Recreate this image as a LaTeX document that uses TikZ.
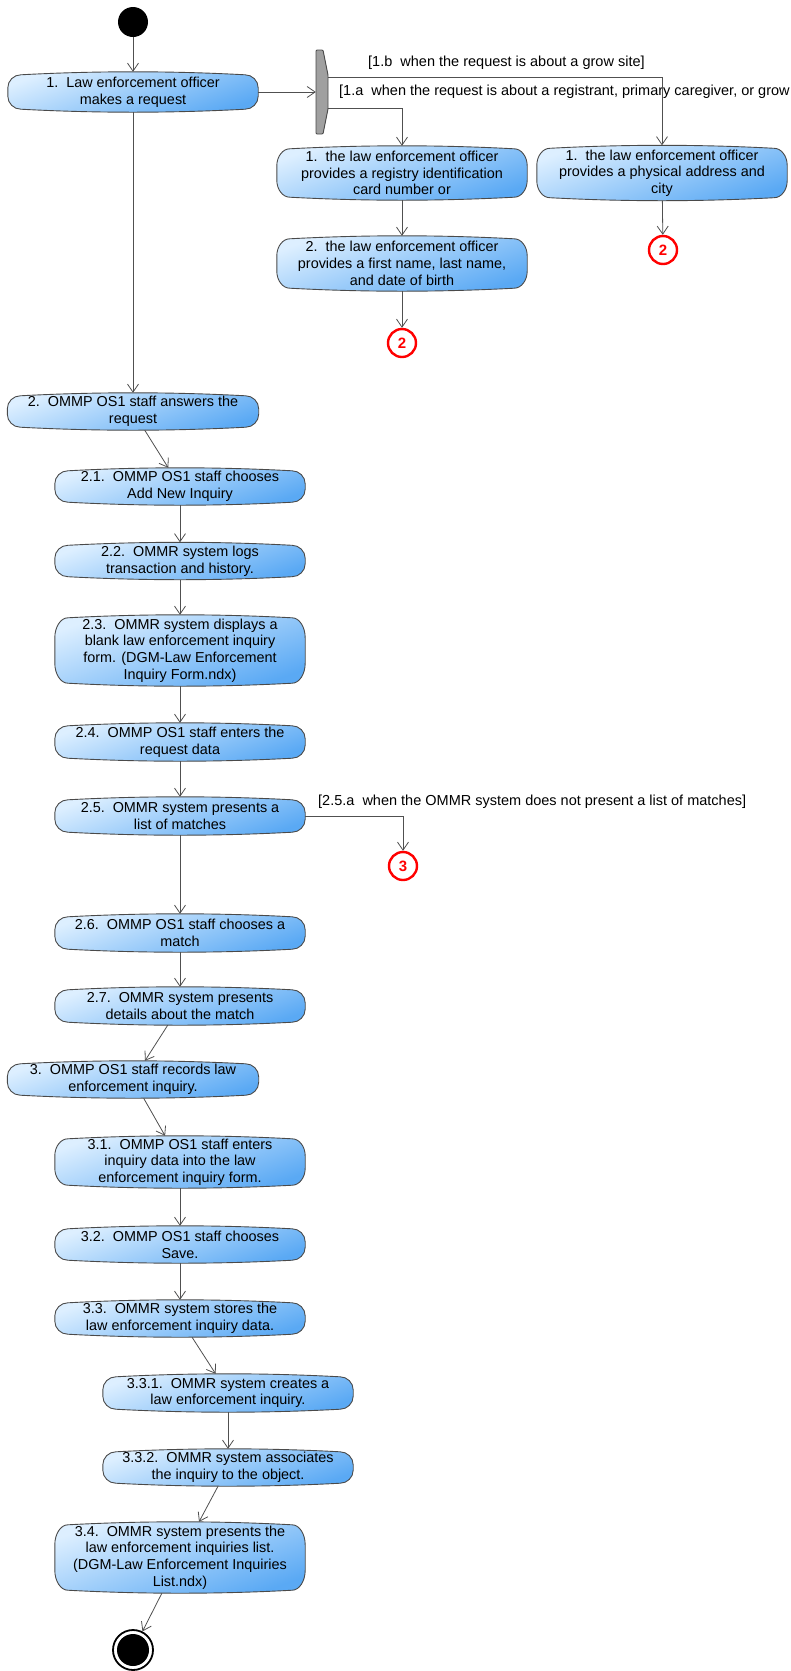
\documentclass[tikz,border=0pt]{standalone}
\usepackage{fontspec}
\setmainfont{Liberation Sans}
\usetikzlibrary{arrows.meta,calc,backgrounds}
\definecolor{nodetop}{HTML}{DDEFFF}
\definecolor{nodebot}{HTML}{5AA9F4}
\definecolor{edgeC}{HTML}{4A4A4A}
\definecolor{lineC}{HTML}{505050}
\definecolor{forkC}{HTML}{A0A0A0}
\newcommand{\actbg}[2]{%
  \pgfmathsetmacro{\ra}{3+#2}%
  \pgfmathsetmacro{\rb}{3+0.45*#2}%
  \path[actbg]
    ([xshift=13pt,yshift=-3pt]#1.north west)
    .. controls ($(#1.north west)!0.35!(#1.north east)+(0pt,1pt)$) and ($(#1.north west)!0.65!(#1.north east)+(0pt,1pt)$) .. ([xshift=-13pt,yshift=-3pt]#1.north east)
    .. controls ([xshift=-6pt,yshift=-3pt]#1.north east) and ([yshift=-\rb pt]#1.north east) .. ([yshift=-\ra pt]#1.north east)
    -- ([yshift=\ra pt]#1.south east)
    .. controls ([yshift=\rb pt]#1.south east) and ([xshift=-6pt,yshift=3pt]#1.south east) .. ([xshift=-13pt,yshift=3pt]#1.south east)
    .. controls ($(#1.south west)!0.65!(#1.south east)+(0pt,-1pt)$) and ($(#1.south west)!0.35!(#1.south east)+(0pt,-1pt)$) .. ([xshift=13pt,yshift=3pt]#1.south west)
    .. controls ([xshift=6pt,yshift=3pt]#1.south west) and ([yshift=\rb pt]#1.south west) .. ([yshift=\ra pt]#1.south west)
    -- ([yshift=-\ra pt]#1.north west)
    .. controls ([yshift=-\rb pt]#1.north west) and ([xshift=6pt,yshift=-3pt]#1.north west) .. ([xshift=13pt,yshift=-3pt]#1.north west)
    -- cycle;}
\begin{document}
\begin{tikzpicture}[x=1pt,y=-1pt,
  act/.style={minimum width=250pt, align=center, inner sep=0pt,
    font=\fontsize{14.4}{16.7}\selectfont},
  actbg/.style={draw=edgeC, line width=0.9pt,
    top color=nodetop, bottom color=nodebot, shading angle=20},
  arr/.style={draw=lineC, line width=0.8pt, -{Straight Barb[length=8pt,width=11pt]}},
  conn/.style={draw=red, fill=white, circle, line width=2.4pt, minimum size=28pt,
    inner sep=0pt, text=red, font=\bfseries\fontsize{15}{15}\selectfont},
  guard/.style={anchor=west, inner sep=0pt, font=\fontsize{14.5}{16.7}\selectfont}
]
\useasboundingbox (0,0) rectangle (791,1671);

% initial and final
\node[circle, fill=black, minimum size=30pt, inner sep=0pt] (start) at (133,22) {};
\node[circle, draw=black, line width=1.8pt, fill=white, minimum size=40pt, inner sep=0pt,
  path picture={\fill[black] (path picture bounding box.center) circle (16pt);}] (end) at (133,1650) {};

% fork
\node[minimum width=12pt, minimum height=84pt, inner sep=0pt] (fork) at (322,92) {};
\filldraw[fill=forkC, draw=edgeC, line width=0.9pt, rounded corners=1pt]
  (316,50) -- (323,50) -- (328,75) -- (328,109) -- (323,134) -- (316,134) -- cycle;

% actions
\node[act, minimum height=40pt] (n1) at (133,92) {1.\ \ Law enforcement officer\\makes a request};
\node[act, minimum height=54pt] (n1a1) at (402,173) {1.\ \ the law enforcement officer\\provides a registry identification\\card number or};
\node[act, minimum height=55pt] (n1b1) at (662,173) {1.\ \ the law enforcement officer\\provides a physical address and\\city};
\node[act, minimum height=55pt] (n1a2) at (402,263.5) {2.\ \ the law enforcement officer\\provides a first name, last name,\\and date of birth};
\node[act, minimum height=37pt, minimum width=251pt] (n2) at (133,411.5) {2.\ \ OMMP OS1 staff answers the\\request};
\node[act, minimum height=37pt] (n21) at (180,486.5) {2.1.\ \ OMMP OS1 staff chooses\\Add New Inquiry};
\node[act, minimum height=37pt] (n22) at (180,561) {2.2.\ \ OMMR system logs\\transaction and history.};
\node[act, minimum height=71pt] (n23) at (180,650.5) {2.3.\ \ OMMR system displays a\\blank law enforcement inquiry\\form. (DGM-Law Enforcement\\Inquiry Form.ndx)};
\node[act, minimum height=38pt] (n24) at (180,742) {2.4.\ \ OMMP OS1 staff enters the\\request data};
\node[act, minimum height=38pt] (n25) at (180,816) {2.5.\ \ OMMR system presents a\\list of matches};
\node[act, minimum height=38pt] (n26) at (180,933) {2.6.\ \ OMMP OS1 staff chooses a\\match};
\node[act, minimum height=38pt] (n27) at (180,1006) {2.7.\ \ OMMR system presents\\details about the match};
\node[act, minimum height=37pt, minimum width=251pt] (n3) at (133,1079.5) {3.\ \ OMMP OS1 staff records law\\enforcement inquiry.};
\node[act, minimum height=52pt] (n31) at (180,1162) {3.1.\ \ OMMP OS1 staff enters\\inquiry data into the law\\enforcement inquiry form.};
\node[act, minimum height=37pt] (n32) at (180,1244.5) {3.2.\ \ OMMP OS1 staff chooses\\Save.};
\node[act, minimum height=37pt] (n33) at (180,1318.5) {3.3.\ \ OMMR system stores the\\law enforcement inquiry data.};
\node[act, minimum height=38pt] (n331) at (228,1393) {3.3.1.\ \ OMMR system creates a\\law enforcement inquiry.};
\node[act, minimum height=37pt] (n332) at (228,1467.5) {3.3.2.\ \ OMMR system associates\\the inquiry to the object.};
\node[act, minimum height=71pt] (n34) at (180,1557.5) {3.4.\ \ OMMR system presents the\\law enforcement inquiries list.\\(DGM-Law Enforcement Inquiries\\List.ndx)};

\begin{scope}[on background layer]
  \foreach \n/\r in {n1/13, n1a1/17, n1b1/17, n1a2/17, n2/13, n21/13, n22/13, n23/20,
    n24/13, n25/13, n26/13, n27/13, n3/13, n31/17, n32/13, n33/13, n331/13, n332/13, n34/20}
    {\actbg{\n}{\r}}
\end{scope}

% connectors (off-page)
\node[conn] (c2a) at (402,343) {2};
\node[conn] (c2b) at (663,250) {2};
\node[conn] (c3) at (403,866) {3};

% guards
\node[guard] (g1b) at (368,63) {[1.b\ \ when the request is about a grow site]};
\node[guard] (g1a) at (339,92) {[1.a\ \ when the request is about a registrant, primary caregiver, or grow};
\node[guard] (g25) at (318,802) {[2.5.a\ \ when the OMMR system does not present a list of matches]};

% edges
\draw[arr] (start) -- (n1);
\draw[arr] (n1) -- (fork);
\draw[arr] ([yshift=15pt]fork.east) -| (n1b1.north);
\draw[arr] ([yshift=-16pt]fork.east) -| (n1a1.north);
\draw[arr] (n1a1) -- (n1a2);
\draw[arr] (n1a2) -- (c2a);
\draw[arr] (n1b1) -- (c2b);
\draw[arr] (n1) -- (n2);
\draw[arr] (n2) -- (n21);
\draw[arr] (n21) -- (n22);
\draw[arr] (n22) -- (n23);
\draw[arr] (n23) -- (n24);
\draw[arr] (n24) -- (n25);
\draw[arr] (n25) -| (c3);
\draw[arr] (n25) -- (n26);
\draw[arr] (n26) -- (n27);
\draw[arr] (n27) -- (n3);
\draw[arr] (n3) -- (n31);
\draw[arr] (n31) -- (n32);
\draw[arr] (n32) -- (n33);
\draw[arr] (n33) -- (n331);
\draw[arr] (n331) -- (n332);
\draw[arr] (n332) -- (n34);
\draw[arr] (n34) -- (end);
\end{tikzpicture}
\end{document}
